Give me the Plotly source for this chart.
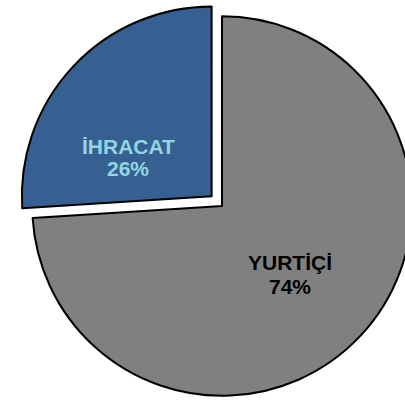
import plotly.graph_objects as go

labels = ["YURTİÇİ", "İHRACAT"]
values = [74, 26]
colors = ["#808080", "#376092"]
text_colors = ["#000000", "#93D5E0"]
pulls = [0, 0.075]

W, H = 426, 412
total = sum(values)

fig = go.Figure()
fig.add_trace(go.Pie(
    labels=labels,
    values=values,
    sort=False,
    direction="clockwise",
    rotation=0,
    pull=pulls,
    marker=dict(colors=colors, line=dict(color="#000000", width=2)),
    textinfo="none",
    hoverinfo="label+percent",
    domain=dict(x=[18 / W, 1.0], y=[0.0, 1.0]),
))

# label / percent text, one line each (pixel centre of each line)
label_px = [(289.5, 262), (128, 147)]
pct_px = [(289.5, 286), (128, 169)]
for lab, v, col, (lx, ly), (px_, py_) in zip(labels, values, text_colors, label_px, pct_px):
    for txt, x, y in [(lab, lx, ly), ("%d%%" % round(v * 100 / total), px_, py_)]:
        fig.add_annotation(text="<b>" + txt + "</b>", x=x / W, y=1 - y / H,
                           xref="paper", yref="paper", xanchor="center", yanchor="middle",
                           showarrow=False,
                           font=dict(family="Liberation Sans, Arial", size=21, color=col))

fig.update_layout(
    width=W,
    height=H,
    margin=dict(l=0, r=0, t=0, b=0),
    showlegend=False,
    paper_bgcolor="white",
    plot_bgcolor="white",
)

fig.write_html("out.html", config={"displayModeBar": False},
               post_script="document.body.style.overflow='hidden';document.body.style.margin='0';")
